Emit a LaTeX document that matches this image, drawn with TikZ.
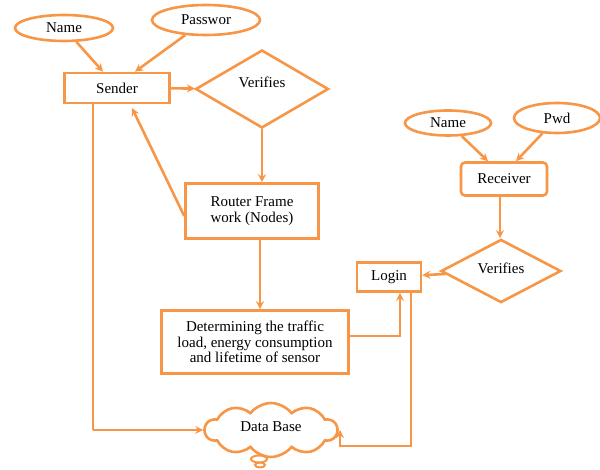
\documentclass[tikz,border=0pt]{standalone}
\usepackage{fontspec}
\setmainfont{Liberation Serif}
\newfontfamily\tnr{Liberation Serif}
\usetikzlibrary{shapes.geometric,shapes.symbols,arrows.meta}
\definecolor{orng}{HTML}{F79646}
\begin{document}
\begin{tikzpicture}[x=1pt, y=-1pt, line width=2.6pt, draw=orng,
	>={Stealth[length=8pt,width=8pt]},
	box/.style = {draw=orng, rectangle, inner sep=0pt, align=center, font=\tnr\fontsize{15}{15.5}\selectfont},
	oval/.style = {draw=orng, ellipse, inner sep=0pt, font=\tnr\fontsize{15}{15.5}\selectfont},
	dia/.style = {draw=orng, diamond, inner sep=0pt, font=\tnr\fontsize{15}{15.5}\selectfont}]

	\useasboundingbox (0,0) rectangle (600,470);

		\node[oval, minimum width=98, minimum height=26] (name) at (64,28) {\raisebox{-4pt}{Name}};
		\node[oval, minimum width=108, minimum height=30] (pass) at (206,20) {\raisebox{-3pt}{Passwor}};
		\node[box, minimum width=105, minimum height=30] (sender) at (117,88) {Sender};
		\node[dia, minimum width=133, minimum height=78] (ver1) at (262,89) {\raisebox{14pt}{Verifies}};
		\node[box, minimum width=133, minimum height=55] (router) at (252,211) {Router Frame\\work (Nodes)};
		\node[box, minimum width=187, minimum height=63] (det) at (255,342) {Determining the traffic\\load, energy consumption\\and lifetime of sensor};

		\node[oval, minimum width=86, minimum height=25] (name2) at (448,123) {Name};
		\node[oval, minimum width=86, minimum height=30] (pwd) at (557,118) {Pwd};
		\node[box, rounded corners=4pt, minimum width=86, minimum height=33] (recv) at (504,179) {Receiver};
		\node[dia, minimum width=120, minimum height=55] (ver2) at (501,271) {\raisebox{6pt}{Verifies}};
		\node[box, minimum width=64, minimum height=29] (login) at (389,277) {Login};

		\node[draw=orng, cloud, cloud puffs=10, cloud puff arc=105, cloud ignores aspect,
			minimum width=132, minimum height=54, inner sep=0pt,
			font=\tnr\fontsize{15}{15.5}\selectfont] (db) at (271,430) {\raisebox{7pt}{Data Base}};
		\node[draw=orng, ellipse, minimum width=16, minimum height=7, inner sep=0pt, line width=2pt] (b1) at (259,459) {};
		\node[draw=orng, ellipse, minimum width=10, minimum height=5, inner sep=0pt, line width=2pt] (b2) at (260,465) {};

		\coordinate (c1) at (93,430);
		\coordinate (c2) at (400,336);
		\coordinate (c3) at (411,446);
		\coordinate (c4) at (340,446);

		\draw[->] (name) -- (sender.north west -| 103,0);
		\draw[->] (pass) -- (sender.north east -| 135,0);
		\draw[->] (sender) -- (ver1);
		\draw[->] (ver1) -- (router.north -| ver1);
		\draw[->] (router.west |- 0,216) -- (132,108);
		\draw[->] (router.south -| 260,0) -- (det.north -| 260,0);
		\draw (sender.south -| 93,0) -- (c1);
		\draw[->] (c1) -- (db.west |- c1);
		\draw[->] (det.east |- c2) -- (c2) -- (login.south -| c2);
		\draw[->] (login.south -| c3) -- (c3) -- (c4) -- (db.east -| c4);

		\draw[->] (name2) -- (recv.north -| 488,0);
		\draw[->] (pwd) -- (recv.north -| 516,0);
		\draw[->] (recv.south -| 500,0) -- (ver2.north -| 500,0);
		\draw[->] (ver2) -- (login);
	\end{tikzpicture}
\end{document}
